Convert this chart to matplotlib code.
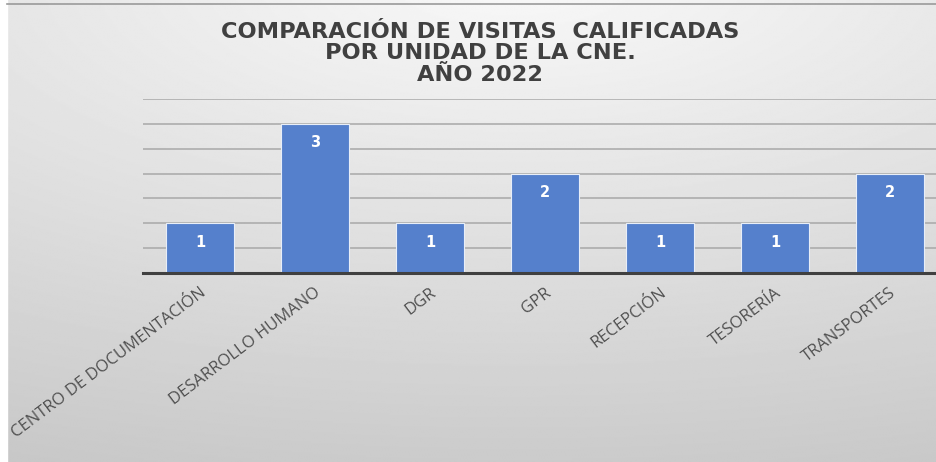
import numpy as np
import matplotlib
matplotlib.use("Agg")
import matplotlib.pyplot as plt

categories = ["CENTRO DE DOCUMENTACIÓN", "DESARROLLO HUMANO", "DGR", "GPR",
              "RECEPCIÓN", "TESORERÍA", "TRANSPORTES"]
values = [1, 3, 1, 2, 1, 1, 2]
title = "COMPARACIÓN DE VISITAS  CALIFICADAS\nPOR UNIDAD DE LA CNE.\nAÑO 2022"

W, H = 936, 462
fig = plt.figure(figsize=(W / 100, H / 100), dpi=100)

# background gradient
bg = fig.add_axes([0, 0, 1, 1], zorder=-10)
yy, xx = np.mgrid[0:1:300j, 0:1:600j]
d = np.sqrt(((xx - 0.55) * 0.8) ** 2 + ((yy + 0.05) * 1.0) ** 2)
img = 0.975 - 0.17 * np.clip(d, 0, 1.2)
bg.imshow(img, cmap="gray", vmin=0, vmax=1, aspect="auto",
          extent=[0, 1, 1, 0], interpolation="bilinear")
bg.set_xlim(0, 1)
bg.set_ylim(1, 0)
bg.axis("off")
bg.plot([0.007, 1], [0.009, 0.009], color="#9a9a9a", lw=1.2)
bg.fill_between([0, 0.007], 0, 1, color="white")

ax = fig.add_axes([142.5 / W, (H - 273) / H, 805 / W, 174 / H])
ax.patch.set_alpha(0)
x = np.arange(len(categories))
ax.bar(x, values, width=0.59, color="#5580CC", edgecolor="#E8EEF8",
       linewidth=0.8, zorder=3)
ax.set_xlim(-0.5, 6.5)
ax.set_ylim(0, 3.5)
ax.set_yticks(np.arange(0, 3.51, 0.5))
ax.yaxis.grid(True, color="#A8A8A8", lw=1.1, zorder=0)
ax.tick_params(axis="y", left=False, labelleft=False)
ax.tick_params(axis="x", bottom=False, labelbottom=False)
for s in ["top", "right", "left"]:
    ax.spines[s].set_visible(False)
ax.spines["bottom"].set_color("#404040")
ax.spines["bottom"].set_linewidth(2.2)
ax.spines["bottom"].set_zorder(5)

for xi, v in zip(x, values):
    ax.annotate(str(v), (xi, v), xytext=(0, -13.5), textcoords="offset points",
                ha="center", va="center", color="white", fontsize=10.5,
                fontweight="bold", family=["DejaVu Sans"], zorder=6)

for xi, c in zip(x, categories):
    ax.annotate(c, (xi, 0), xytext=(3, -13), textcoords="offset points",
                ha="right", va="center", rotation=37, rotation_mode="anchor",
                color="#505050", fontsize=12, family=["Open Sans", "DejaVu Sans"])

fig.text(0.513, 0.953, title, ha="center", va="top", fontsize=16.2,
         fontweight="bold", color="#404040", linespacing=1.1,
         family=["DejaVu Sans"])

fig.savefig("out.png", dpi=100)
